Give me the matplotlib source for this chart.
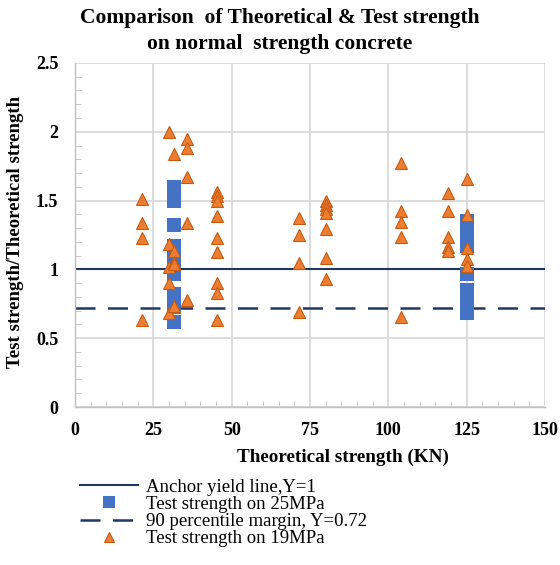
import matplotlib
matplotlib.use("Agg")
import matplotlib.pyplot as plt
from matplotlib.ticker import MultipleLocator, FuncFormatter
from matplotlib.lines import Line2D

plt.rcParams['font.family'] = ['Liberation Serif', 'DejaVu Serif']

# Test strength on 25MPa (blue squares)
x25 = [31.5]*13 + [125.2]*9
y25 = [1.60, 1.55, 1.50, 1.32, 1.17, 1.12, 1.05, 1.00, 0.97, 0.82, 0.78, 0.73, 0.62,
       1.35, 1.28, 1.22, 1.17, 0.97, 0.85, 0.79, 0.73, 0.68]

# Test strength on 19MPa (orange triangles)
x19 = ([21.3]*4 + [30.1]*5 + [31.5]*5 + [35.8]*5 + [45.2]*9 + [71.6]*4 +
       [80.0]*7 + [104.0]*5 + [119.0]*5 + [125.2]*5)
y19 = [1.51, 1.335, 1.226, 0.632,
       2.00, 1.185, 1.02, 0.90, 0.685,
       1.84, 1.13, 1.056, 1.04, 0.735,
       1.95, 1.88, 1.67, 1.335, 0.78,
       1.565, 1.53, 1.50, 1.39, 1.226, 1.124, 0.90, 0.83, 0.632,
       1.37, 1.25, 1.05, 0.69,
       1.50, 1.468, 1.436, 1.41, 1.29, 1.08, 0.93,
       1.775, 1.427, 1.347, 1.238, 0.656,
       1.552, 1.424, 1.233, 1.16, 1.13,
       1.66, 1.395, 1.157, 1.075, 1.027]

anchor_y = 1.0
margin_y = 0.72

title = "Comparison  of Theoretical & Test strength\non normal  strength concrete"
xlabel = "Theoretical strength (KN)"
ylabel = "Test strength/Theoretical strength"
labels = ["Anchor yield line,Y=1", "Test strength on 25MPa",
          "90 percentile margin, Y=0.72", "Test strength on 19MPa"]

fig = plt.figure(figsize=(5.6, 5.65), dpi=100)
ax = fig.add_axes([0.134, 0.2796, 0.839, 0.609])

navy = "#1F3864"
blue = "#4472C4"
orange = "#ED7D31"

ax.set_xlim(0, 150)
ax.set_ylim(0, 2.5)
ax.xaxis.set_major_locator(MultipleLocator(25))
ax.xaxis.set_minor_locator(MultipleLocator(5))
ax.yaxis.set_major_locator(MultipleLocator(0.5))
ax.yaxis.set_minor_locator(MultipleLocator(0.1))
ax.yaxis.set_major_formatter(FuncFormatter(lambda v, p: f"{v:g}"))
ax.grid(True, which='major', color='#D9D9D9', linewidth=1.3, zorder=0)
for s in ['top', 'right']:
    ax.spines[s].set_visible(False)
for s in ['left', 'bottom']:
    ax.spines[s].set_color('#BFBFBF')
    ax.spines[s].set_linewidth(1.0)
ax.tick_params(which='both', direction='in', color='#BFBFBF')
ax.tick_params(which='major', length=0)
ax.tick_params(which='minor', length=4)
ax.tick_params(axis='x', pad=11)
ax.tick_params(axis='y', pad=12)
for lab in ax.get_xticklabels() + ax.get_yticklabels():
    lab.set_fontweight('bold')
    lab.set_fontsize(13)

ax.axhline(anchor_y, color=navy, linewidth=1.5, zorder=2)
ax.axhline(margin_y, color=navy, linewidth=1.8, dashes=(8, 5), zorder=2)
ax.plot(x25, y25, linestyle='none', marker='s', markersize=9.5, color=blue,
        markeredgewidth=0, zorder=3)
ax.plot(x19, y19, linestyle='none', marker='^', markersize=8.5, color=orange,
        markeredgecolor='#C55A11', markeredgewidth=0.8, zorder=4)

fig.text(0.5, 0.985, title, ha='center', va='top', fontsize=15.5,
         fontweight='bold', linespacing=1.35)
ax.set_xlabel(xlabel, fontsize=13.8, fontweight='bold')
ax.xaxis.set_label_coords(0.571, -0.122)
ax.set_ylabel(ylabel, fontsize=13.5, fontweight='bold')
ax.yaxis.set_label_coords(-0.108, 0.51)

handles = [
    Line2D([], [], color=navy, linewidth=1.5),
    Line2D([], [], linestyle='none', marker='s', markersize=8, color=blue, markeredgewidth=0),
    Line2D([], [], color=navy, linewidth=1.8, dashes=(8, 5)),
    Line2D([], [], linestyle='none', marker='^', markersize=7.5, color=orange,
           markeredgecolor='#C55A11', markeredgewidth=0.8),
]
fig.legend(handles, labels, loc='upper left', bbox_to_anchor=(0.13, 0.166),
           frameon=False, fontsize=13.5, handlelength=3.1, handletextpad=0.43,
           labelspacing=0.0, borderaxespad=0)

fig.savefig("out.png", dpi=100, facecolor='white')
